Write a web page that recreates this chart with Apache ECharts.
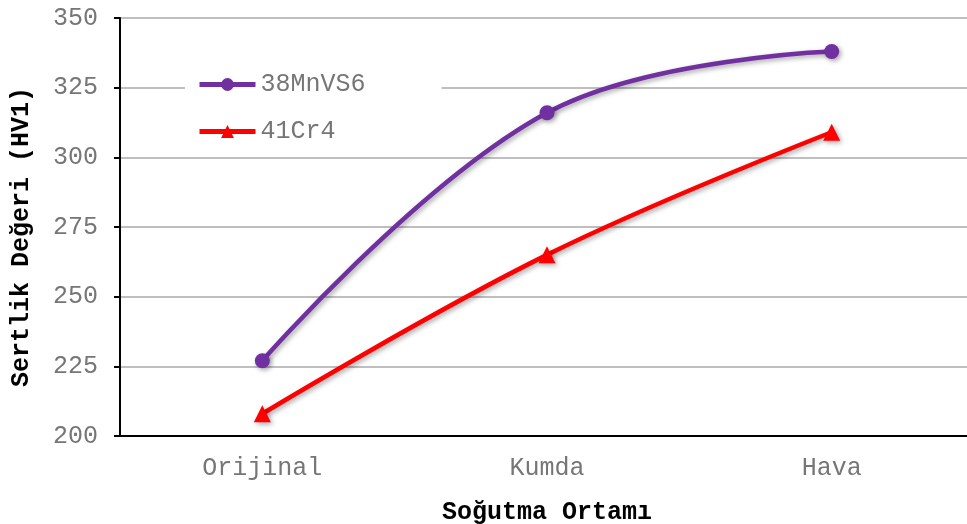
<!DOCTYPE html>
<html><head><meta charset="utf-8">
<script src="https://cdn.jsdelivr.net/npm/echarts@6/dist/echarts.min.js"></script>
<style>html,body{margin:0;padding:0;background:#fff}#c{width:967px;height:524px}</style>
</head><body><div id="c"></div>
<script>
const categories = ['Orijinal', 'Kumda', 'Hava'];
const mnvs6 = [227, 316, 338];
const cr4 = [208, 265, 309];
const yTicks = { min: 200, max: 350, interval: 25 };

const font = '"Liberation Mono", "Courier New", monospace';
const shadow = { shadowColor: 'rgba(0,0,0,0.35)', shadowBlur: 5, shadowOffsetX: 2, shadowOffsetY: 2 };
const chart = echarts.init(document.getElementById('c'));
chart.setOption({
  animation: false,
  grid: { left: 120, right: -7, top: 18, bottom: 88, outerBoundsMode: 'none', containLabel: false },
  legend: {
    orient: 'vertical', left: 185, top: 62, itemGap: 22,
    itemWidth: 56, itemHeight: 16, backgroundColor: '#fff',
    padding: [10, 76, 10, 12],
    textStyle: { fontFamily: font, fontSize: 25, color: '#767676' },
    lineStyle: { width: 5 },
    data: ['38MnVS6', '41Cr4']
  },
  xAxis: {
    type: 'category', data: categories,
    name: 'Soğutma Ortamı', nameLocation: 'middle', nameGap: 64,
    nameTextStyle: { fontFamily: font, fontSize: 25, fontWeight: 'bold', color: '#000' },
    axisLine: { lineStyle: { color: '#000', width: 2 } },
    axisTick: { alignWithLabel: true, length: 6, lineStyle: { color: '#000', width: 2 } },
    axisLabel: { fontFamily: font, fontSize: 25, color: '#767676', margin: 20 }
  },
  yAxis: {
    type: 'value', min: yTicks.min, max: yTicks.max, interval: yTicks.interval,
    name: 'Sertlik Değeri (HV1)', nameLocation: 'middle', nameGap: 86,
    nameTextStyle: { fontFamily: font, fontSize: 25, fontWeight: 'bold', color: '#000', padding: [0, 20, 0, 0] },
    axisLine: { show: true, lineStyle: { color: '#000', width: 2 } },
    axisTick: { show: true, inside: false, length: 6, lineStyle: { color: '#000', width: 2 } },
    axisLabel: { fontFamily: font, fontSize: 25, color: '#767676', margin: 22 },
    splitLine: { lineStyle: { color: '#BFBFBF', width: 2 } }
  },
  series: [
    {
      name: '38MnVS6', type: 'line', data: mnvs6, smooth: 0.4,
      symbol: 'circle', symbolSize: 15,
      lineStyle: Object.assign({ color: '#7030A0', width: 4.5 }, shadow),
      itemStyle: Object.assign({ color: '#7030A0' }, shadow)
    },
    {
      name: '41Cr4', type: 'line', data: cr4, smooth: 0.4,
      symbol: 'triangle', symbolSize: 17,
      lineStyle: Object.assign({ color: '#FF0000', width: 4.5 }, shadow),
      itemStyle: Object.assign({ color: '#FF0000' }, shadow)
    }
  ]
});
</script></body></html>
